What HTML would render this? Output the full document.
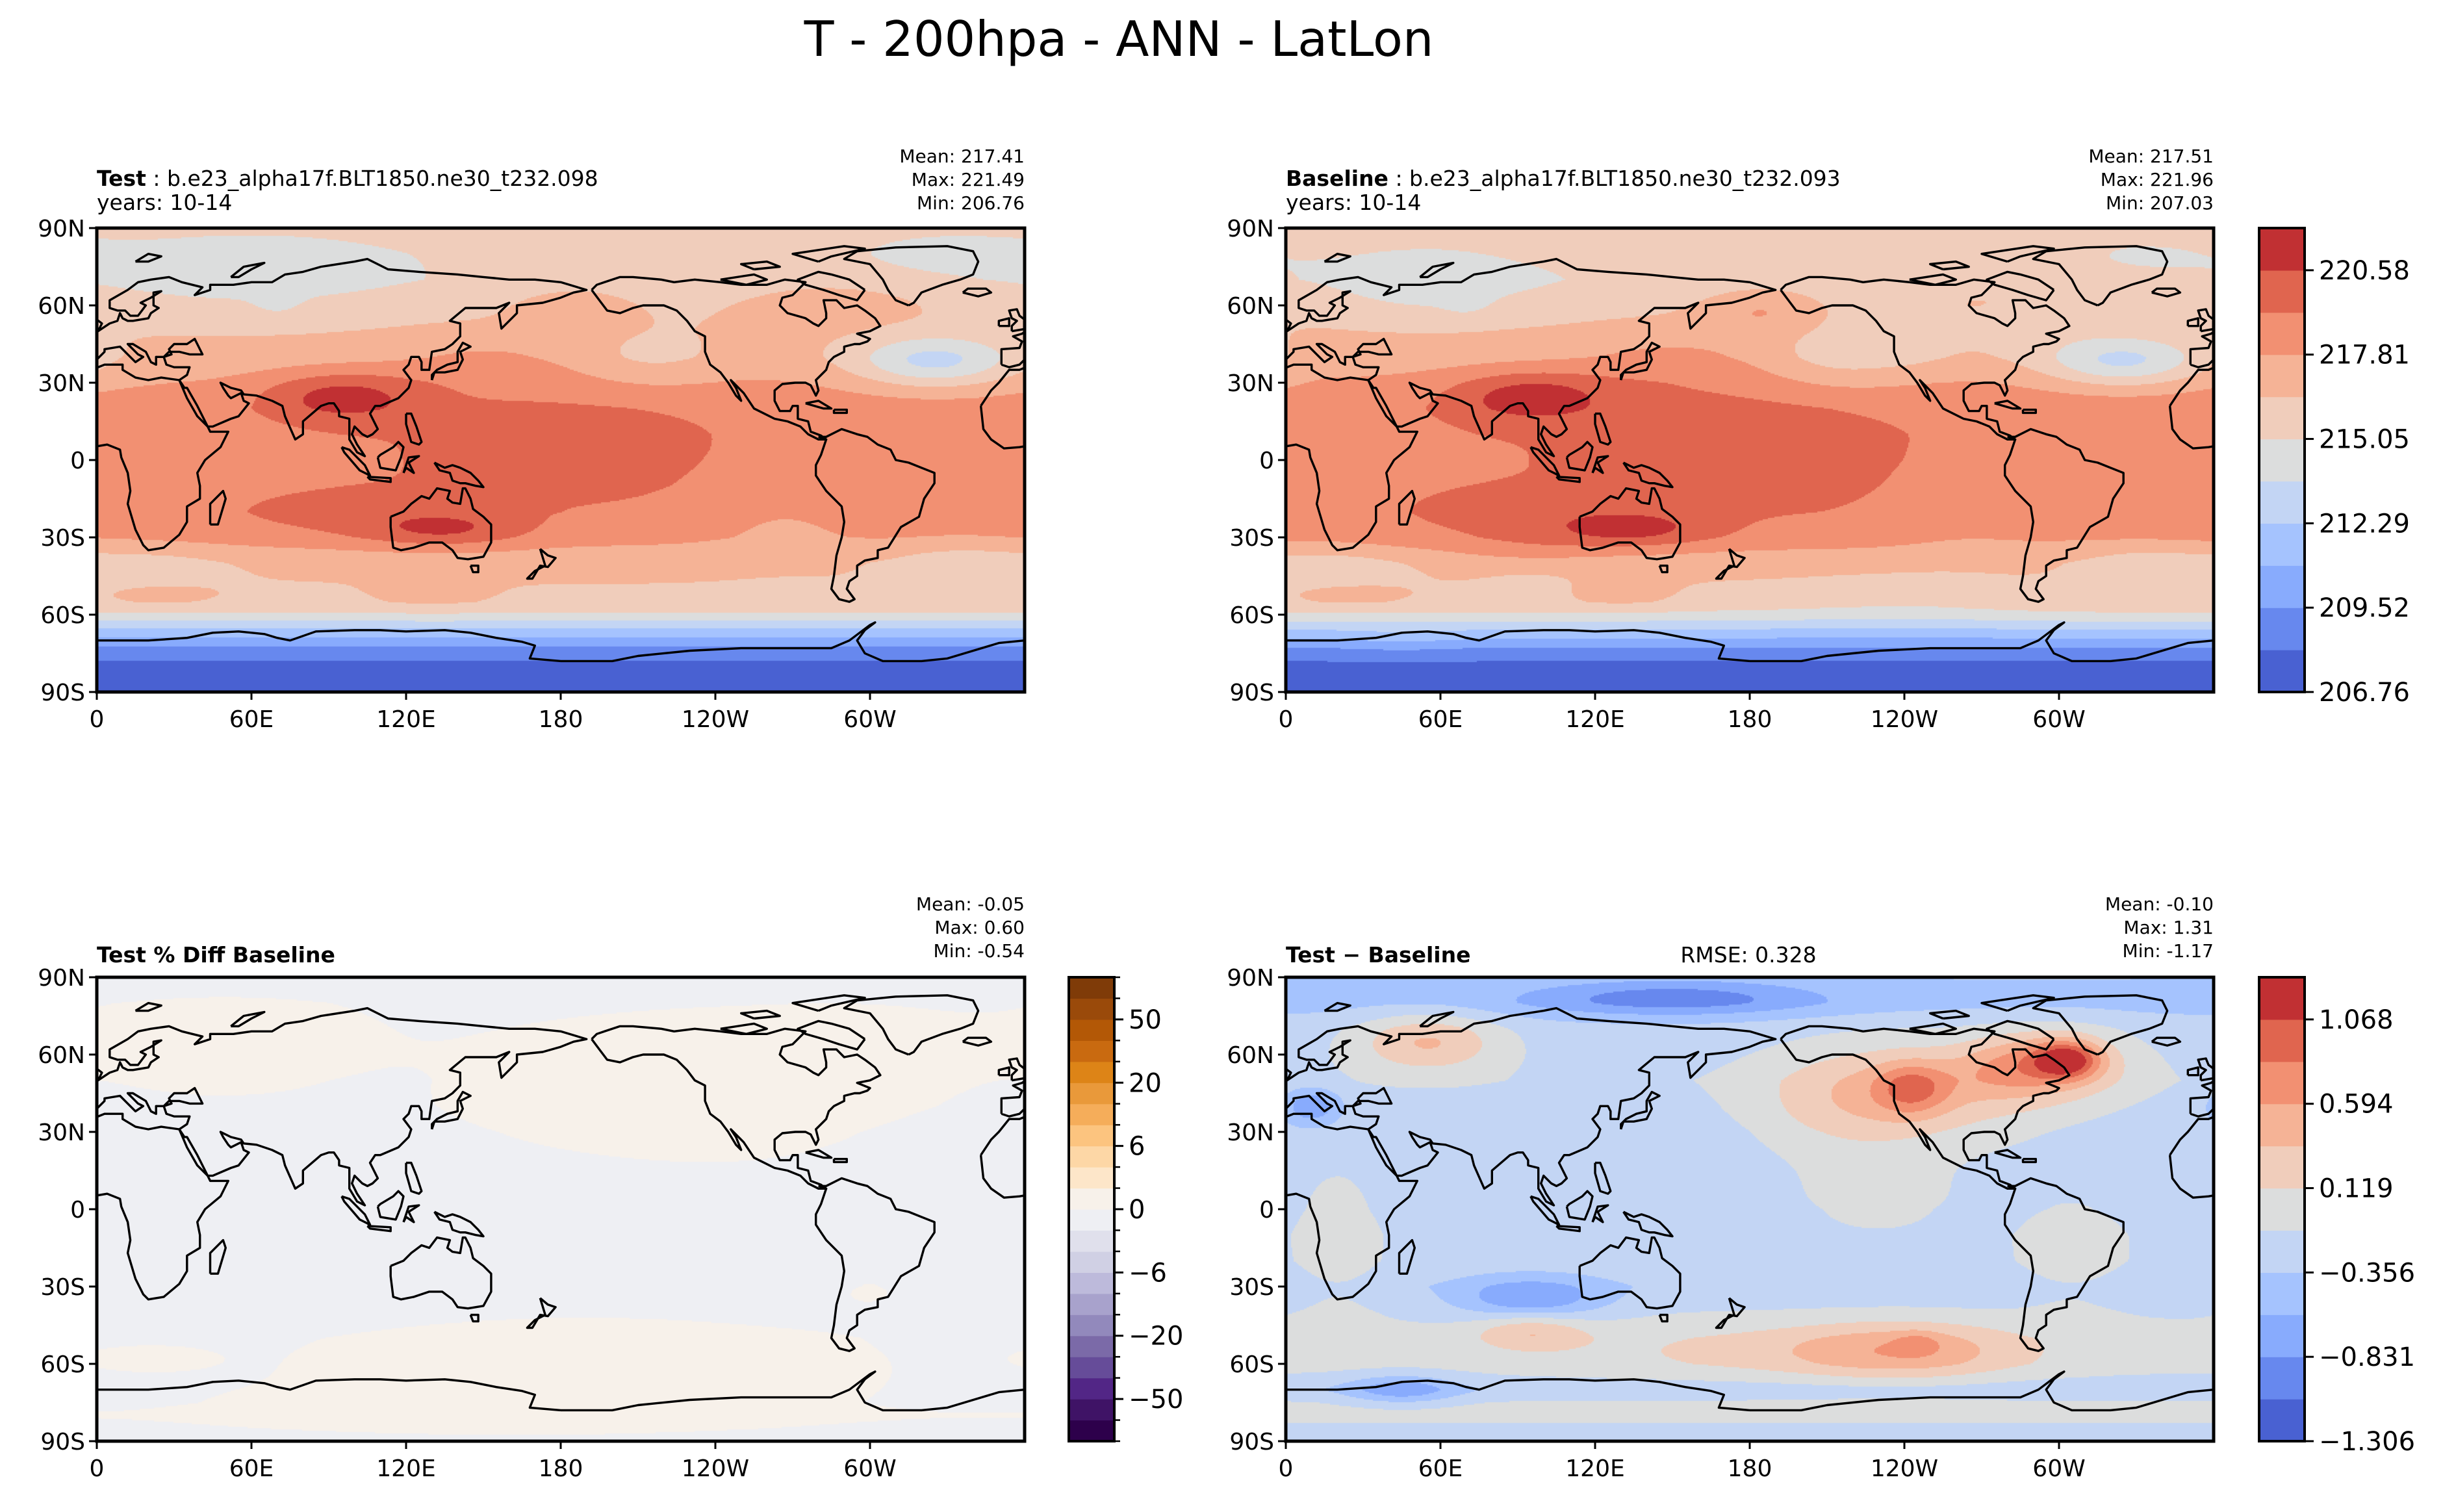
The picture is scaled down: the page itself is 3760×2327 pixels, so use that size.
<!DOCTYPE html>
<html><head><meta charset="utf-8">
<style>
html,body{margin:0;padding:0;background:#fff;}
body{width:3760px;height:2327px;position:relative;overflow:hidden;font-family:"DejaVu Sans","Liberation Sans",sans-serif;}
canvas{position:absolute;}
svg{position:absolute;left:0;top:0;}
</style></head>
<body>
<canvas id="cTL" width="1428" height="714" style="left:149px;top:351px"></canvas>
<canvas id="cTR" width="1428" height="714" style="left:1979px;top:351px"></canvas>
<canvas id="cBL" width="1428" height="714" style="left:149px;top:1504px"></canvas>
<canvas id="cBR" width="1428" height="714" style="left:1979px;top:1504px"></canvas>
<svg id="ov" width="3760" height="2327" xmlns="http://www.w3.org/2000/svg">
<text x="1722" y="86" font-size="75" text-anchor="middle" font-family="DejaVu Sans, sans-serif">T - 200hpa - ANN - LatLon</text>
</svg>
<script>
// ---------- data ----------
const zLats = [90,80,70,60,50,40,30,20,10,0,-10,-20,-30,-40,-50,-55,-60,-65,-70,-75,-80,-90];
const zTest = [215.6,215.4,215.4,216.0,216.5,216.9,217.8,218.5,218.6,218.6,218.6,218.5,218.0,216.7,216.3,216.1,214.8,212.5,210.3,208.6,207.8,207.3];
// [lon, lat, amp, sigLon, sigLat]
const testBumps = [
 [60,72,-1.1,45,12],[70,62,-0.9,6,4],[95,25,2.8,22,7],[180,5,1.1,55,22],[135,-27,2.1,22,5],
 [90,-22,1.0,35,8],[215,38,-1.0,20,8],[325,38,-3.8,22,7],[185,58,1.6,15,6],[285,62,1.0,30,8],
 [335,-40,-1.2,20,6],[20,-42,-1.1,20,5],[330,80,-0.8,25,6],[265,-20,-0.7,20,12],[130,-52,0.8,15,4],[25,-52,0.8,15,3],
 [150,38,0.9,25,8]
];
const dLats = [90,80,70,60,50,40,30,20,10,0,-10,-20,-30,-40,-50,-60,-65,-70,-75,-80,-85,-90];
const dZonal = [-0.35,-0.45,-0.25,-0.2,-0.15,-0.2,-0.25,-0.25,-0.25,-0.25,-0.2,-0.2,-0.3,-0.15,-0.05,-0.05,-0.15,-0.3,-0.1,0.0,-0.2,-0.35];
const diffBumps = [
 [55,65,0.6,20,8],[150,82,-0.55,40,5],[243,47,0.6,10,7],[250,45,0.45,35,15],[280,55,0.35,15,8],
 [303,58,1.0,9,5],[300,57,0.5,20,10],[10,40,-0.6,8,5],[95,-35,-0.6,20,6],[95,-47,0.45,15,5],
 [240,-55,0.45,30,8],[245,-52,0.25,6,3],[200,-55,0.25,60,8],[45,-70,-0.5,15,4],[20,-10,0.25,12,20],
 [305,-15,0.25,15,15],[230,5,0.2,25,10],[215,40,0.3,25,15]
];
const pctZonal = [-0.03,-0.01,-0.01,-0.01,-0.02,-0.02,-0.03,-0.03,-0.03,-0.03,-0.03,-0.03,-0.03,-0.02,-0.01,-0.01,-0.01,-0.01,-0.01,0.0,-0.01,-0.03];
const pctBumps = [
 [50,62,0.06,35,12],[240,42,0.07,50,18],[180,45,0.05,30,12],[300,60,0.04,30,10],[190,-62,0.07,60,12],[150,-78,0.05,60,6],[20,-58,0.04,15,3],[300,-30,0.03,20,8]
];
const coolwarm = ['#4961d2','#6788ee','#88abfd','#a5c3fe','#c3d5f4','#dcdddd','#f0cdbb','#f5b396','#f29072','#e0654f','#c13033'];
const puor = ['#2d004b','#3f1366','#522686','#664c99','#7b6aa8','#9289bc','#a8a2cc','#bdbadb','#d0d0e4','#e0e0ec','#eeeff3','#f7f1ea','#fde6c9','#fdd7a6','#fcc47f','#f5ad5a','#e9993a','#dd8417','#c96a10','#b35806','#9a4a0a','#7f3b08'];
const tLevelMin = 206.76, tLevelStep = 1.3818;
const dLevelMin = -1.306, dLevelStep = 0.2375;
const tTicks = ['206.76','209.52','212.29','215.05','217.81','220.58'];
const dTicks = ['\u22121.306','\u22120.831','\u22120.356','0.119','0.594','1.068'];
const pTicks = ['\u221250','\u221220','\u22126','0','6','20','50'];
const pTickIdx = [2,5,8,11,14,17,20];
const latTicks = [90,60,30,0,-30,-60,-90];
const latLabels = ['90N','60N','30N','0','30S','60S','90S'];
const lonTicks = [0,60,120,180,240,300];
const lonLabels = ['0','60E','120E','180','120W','60W'];

// ---------- coastlines (lon -180..180, lat) ----------
const coasts = [
 [[-17,21],[-16,12],[-13,8],[-8,4.5],[-2,5],[4,6],[9,4],[9.5,1],[12,-5],[13,-12],[12,-17],[15,-27],[18,-33],[20,-35],[26,-34],[32,-29],[35,-24],[35,-18],[40,-15],[40,-10],[39,-5],[42,0],[48,5],[51,11],[44,11],[43,13],[39,17],[35,24],[32,31],[25,32],[20,31],[15,32],[10,35],[10,37],[3,37],[-2,35],[-6,35],[-10,30],[-13,27],[-17,21]],
 [[44,-25],[47,-25],[50,-15],[49,-12],[44,-17],[44,-25]],
 [[-9,37],[-9,43],[-2,43.5],[-1,46],[-4.5,48],[-1,49],[2,51],[5,53],[8,54],[9,57],[10,55],[12,54],[14,54],[20,55],[21,57],[24,59],[22,60],[22,65],[25,65.5],[21,63],[17,61],[19,60],[16,56],[13,56],[11,58],[8,58],[5,59],[5,62],[12,66],[16,69],[21,70],[28,71],[33,69],[41,67],[38,64],[44,66],[44,68],[53,68],[60,69],[68,69],[73,72],[80,73],[87,75],[100,77],[105,78],[113,74],[125,73],[140,72],[150,71],[160,70],[170,70],[180,69],[190,66],[185,65],[180,63],[173,61],[163,60],[163,57],[157,51],[156,57],[160,61],[155,59],[143,59],[137,54],[141,53],[141,48],[138,45],[135,43],[130,42],[129,35],[126,35],[126,38],[125,40],[122,40],[121,37],[119,35],[122,31],[121,28],[117,24],[110,21],[108,21],[106,18],[109,12],[107,10],[105,9],[103,10],[100,13],[99,10],[101,6],[103,3],[104,1.5],[101,3],[98,8],[98,16],[94,17],[94,19],[92,22],[90,22],[87,21],[80,15],[80,10],[77,8],[73,17],[72,21],[68,23],[62,25],[57,25.5],[56,27],[52,28],[48,30],[49,28],[51,25],[52,24],[56,26],[57,23],[59,22],[55,17],[52,16],[45,13],[43,13],[39,21],[35,28],[34,28],[32,31],[35,33],[36,36],[30,36],[27,37],[26,40],[29,41],[28,43],[30,45],[35,45],[38,47],[41,41],[36,41],[32,42],[28,42],[26,40],[23,40],[23,37],[21,38],[19,42],[14,45],[12,45],[16,41],[18,40],[15,38],[12,41],[9,44],[3,43],[3,42],[0,39],[-2,37],[-6,36],[-9,37]],
 [[-5,50],[1,51],[2,53],[-2,56],[-3,58.5],[-6,58],[-5,55],[-3,54],[-5,52],[-5,50]],
 [[-10,52],[-6,52],[-6,55],[-10,54],[-10,52]],
 [[130,31],[131,34],[135,34],[140,35],[142,39],[141,42],[145,44],[142,45.5],[140,42],[140,38],[136,37],[132,35],[130,33],[130,31]],
 [[120,18],[122,18],[124,13],[126,7],[125,6],[122,7],[120,14],[120,18]],
 [[109,1],[110,-3],[116,-4],[118,1],[119,5],[117,7],[115,5],[110,2],[109,1]],
 [[95,5],[98,4],[104,-2],[106,-6],[102,-4],[96,3],[95,5]],
 [[105,-6.5],[114,-7],[114,-8.5],[106,-7.5],[105,-6.5]],
 [[119,-5],[121,1],[125,1.5],[121,-1],[123,-5],[120,-3],[119,-5]],
 [[131,-1],[135,-3],[138,-2],[141,-3],[145,-5],[148,-8],[150,-10.5],[147,-10],[143,-9],[141,-9],[138,-8],[137,-5],[133,-4],[131,-1]],
 [[114,-22],[114,-26],[115,-34],[118,-35],[123,-34],[129,-32],[134,-32],[138,-35],[140,-38],[144,-38.5],[150,-37.5],[153,-32],[153,-25],[150,-22],[146,-19],[145,-15],[143,-11],[142,-11],[141,-17],[138,-16.5],[136,-15],[137,-12],[132,-11],[129,-15],[126,-14],[122,-17],[119,-20],[114,-22]],
 [[145,-41],[148,-41],[148,-43.5],[146,-43.5],[145,-41]],
 [[172,-34.5],[175,-37],[178,-38],[175,-41.5],[172,-41],[169,-46],[167,-46],[170,-43],[174,-41],[172,-34.5]],
 [[-168,66],[-165,62],[-162,58],[-157,57],[-152,59],[-148,60],[-140,60],[-135,58],[-131,54],[-128,50],[-124,48],[-124,42],[-122,37],[-118,34],[-115,30],[-112,25],[-110,23],[-112,28],[-114,31],[-109,26],[-105,20],[-97,16],[-92,15],[-87,13],[-84,10],[-80,8],[-77,8],[-79,9.5],[-83,11],[-84,15],[-88,16],[-88,21],[-90,21],[-91,19],[-95,19],[-97,23],[-97,27],[-94,29.5],[-89,30],[-85,30],[-83,29],[-81,25],[-80,27],[-81,31],[-77,35],[-76,38],[-74,40],[-70,42],[-70,44],[-66,45],[-64,45],[-61,46],[-60,47],[-65,49],[-60,50],[-56,52],[-58,55],[-62,58],[-65,60],[-70,59],[-73,62],[-78,62],[-77,57],[-77,55],[-80,52],[-82,53],[-85,55],[-92,57],[-95,60],[-94,63],[-90,64],[-88,66],[-85,69],[-93,70],[-100,68],[-110,68],[-118,69],[-128,70],[-136,69],[-141,70],[-152,71],[-157,71],[-163,69],[-166,68],[-168,66]],
 [[-45,60],[-50,62],[-53,66],[-55,70],[-60,76],[-70,78],[-65,81],[-50,82.5],[-30,83],[-20,81],[-18,77],[-20,72],[-25,70],[-32,68],[-40,65],[-43,61],[-45,60]],
 [[-62,66],[-68,70],[-75,72],[-80,73],[-88,70],[-85,68],[-78,66],[-72,64],[-65,62],[-62,66]],
 [[-80,77],[-90,80],[-70,83],[-62,82],[-75,79],[-80,77]],
 [[-118,70],[-105,72],[-100,70],[-108,68],[-118,70]],
 [[-105,74],[-95,75],[-100,77],[-110,76],[-105,74]],
 [[-85,22],[-80,23],[-75,20],[-78,20],[-85,22]],
 [[-74,19.5],[-69,19.5],[-69,18.3],[-74,18.3],[-74,19.5]],
 [[-80,9],[-77,8],[-79,2],[-81,-2],[-81,-6],[-77,-12],[-71,-18],[-70,-24],[-71,-30],[-73,-37],[-74,-45],[-75,-50],[-72,-54],[-68,-55],[-66,-54],[-69,-50],[-68,-47],[-65,-45],[-65,-41],[-62,-39],[-57,-38],[-57,-35],[-53,-34],[-48,-26],[-41,-22],[-39,-15],[-35,-9],[-35,-5],[-40,-3],[-45,-1],[-50,0],[-52,4],[-57,6],[-61,9],[-65,10],[-71,12],[-73,11],[-77,9],[-80,9]],
 [[-24,65],[-22,66.5],[-15,66.5],[-13,65],[-18,63.5],[-24,65]],
 [[15,77],[20,80],[25,79],[20,77],[15,77]],
 [[52,71],[57,75],[65,76.5],[60,74],[55,71],[52,71]],
 [[-180,-78],[-160,-78],[-150,-76],[-130,-74],[-110,-73],[-100,-73],[-90,-73],[-75,-73],[-68,-70],[-60,-64],[-58,-63],[-62,-66],[-65,-70],[-62,-75],[-55,-78],[-40,-78],[-30,-77],[-20,-74],[-10,-71],[0,-70],[20,-70],[35,-69],[45,-67],[55,-66.5],[65,-67.5],[70,-69],[75,-70],[85,-66.5],[100,-66],[110,-66],[120,-66.5],[135,-66],[145,-67],[155,-69],[165,-70.5],[170,-72],[168,-77],[180,-78]]
];

const MW = 1428, MH = 714;
const panels = [
 {id:'TL', x:149, y:351},{id:'TR', x:1979, y:351},{id:'BL', x:149, y:1504},{id:'BR', x:1979, y:1504}
];

function interp(lat, lats, vals){
  for(let i=0;i<lats.length-1;i++){
    if(lat<=lats[i] && lat>=lats[i+1]){
      const t=(lats[i]-lat)/(lats[i]-lats[i+1]);
      return vals[i]+(vals[i+1]-vals[i])*t;
    }
  }
  return vals[vals.length-1];
}
function bumpSum(lon, lat, bumps){
  let s=0;
  for(const b of bumps){
    const dl=((lon-b[0]+540)%360)-180;
    const dp=lat-b[1];
    s+=b[2]*Math.exp(-0.5*((dl*dl)/(b[3]*b[3])+(dp*dp)/(b[4]*b[4])));
  }
  return s;
}
function testField(lon,lat){return interp(lat,zLats,zTest)+bumpSum(lon,lat,testBumps);}
function diffField(lon,lat){return interp(lat,dLats,dZonal)+bumpSum(lon,lat,diffBumps);}
function pctField(lon,lat){return interp(lat,dLats,pctZonal)+bumpSum(lon,lat,pctBumps);}

function drawField(cid, fn, colorOf){
  const c=document.getElementById(cid), g=c.getContext('2d');
  const st=2;
  for(let py=0;py<MH;py+=st){
    const lat=90-(py+st/2)/MH*180;
    for(let px=0;px<MW;px+=st){
      const lon=(px+st/2)/MW*360;
      g.fillStyle=colorOf(fn(lon,lat));
      g.fillRect(px,py,st,st);
    }
  }
}
function bandColor(v,min,step,cols){
  let k=Math.floor((v-min)/step);
  if(k<0)k=0; if(k>cols.length-1)k=cols.length-1;
  return cols[k];
}
drawField('cTL',testField,v=>bandColor(v,tLevelMin,tLevelStep,coolwarm));
drawField('cTR',(lo,la)=>testField(lo,la)-diffField(lo,la),v=>bandColor(v,tLevelMin,tLevelStep,coolwarm));
drawField('cBR',diffField,v=>bandColor(v,dLevelMin,dLevelStep,coolwarm));
drawField('cBL',pctField,v=>v>=0?puor[11]:puor[10]);

// ---------- overlay ----------
const NS='http://www.w3.org/2000/svg';
const ov=document.getElementById('ov');
function mk(tag,attrs,parent){
  const e=document.createElementNS(NS,tag);
  for(const k in attrs)e.setAttribute(k,attrs[k]);
  (parent||ov).appendChild(e);return e;
}
const defs=mk('defs',{});
panels.forEach(p=>{
  const cp=mk('clipPath',{id:'clip'+p.id},defs);
  mk('rect',{x:p.x,y:p.y,width:MW,height:MH},cp);
  const X=lon=>p.x+lon/360*MW, Y=lat=>p.y+(90-lat)/180*MH;
  const g=mk('g',{'clip-path':'url(#clip'+p.id+')'});
  
  
  coasts.forEach(poly=>{
    [0,360].forEach(sh=>{
      const d=poly.map((pt,i)=>(i?'L':'M')+X(pt[0]+sh).toFixed(1)+' '+Y(pt[1]).toFixed(1)).join('');
      const path=mk('path',{d:d,fill:'none',stroke:'#000','stroke-width':3.4,'stroke-linejoin':'round'},g);
      
      
    });
  });
  const fr=mk('rect',{x:p.x,y:p.y,width:MW,height:MH,fill:'none',stroke:'#000','stroke-width':5});
  
  
  latTicks.forEach((la,i)=>{
    const yy=Y(la);
    mk('line',{x1:p.x-12,x2:p.x,y1:yy,y2:yy,stroke:'#000','stroke-width':3});
    const t=mk('text',{x:p.x-18,y:yy+13,'font-size':36,'text-anchor':'end'});
    t.textContent=latLabels[i];
    
    
  });
  lonTicks.forEach((lo,i)=>{
    const xx=X(lo);
    mk('line',{x1:xx,x2:xx,y1:p.y+MH,y2:p.y+MH+12,stroke:'#000','stroke-width':3});
    const t=mk('text',{x:xx,y:p.y+MH+54,'font-size':36,'text-anchor':'middle'});
    t.textContent=lonLabels[i];
    
    
  });
});

// headers
function txt(x,y,s,opts,name){
  const t=mk('text',Object.assign({x:x,y:y,'font-size':28},opts||{}));
  t.textContent=s;
  
  
  return t;
}
function headerLeft(x,y,bold,rest,name){
  const t=mk('text',{x:x,y:y,'font-size':33});
  const b=mk('tspan',{'font-weight':'bold'},t);b.textContent=bold;
  const r=mk('tspan',{},t);r.textContent=rest;
  
  
}
const rx1=149+MW, rx2=1979+MW;
headerLeft(149,286,'Test',' : b.e23_alpha17f.BLT1850.ne30_t232.098','test-case-label');
txt(149,323,'years: 10-14',{'font-size':33},'test-years-label');
txt(rx1,250,'Mean: 217.41',{'text-anchor':'end'},'test-mean');
txt(rx1,286,'Max: 221.49',{'text-anchor':'end'},'test-max');
txt(rx1,322,'Min: 206.76',{'text-anchor':'end'},'test-min');
headerLeft(1979,286,'Baseline',' : b.e23_alpha17f.BLT1850.ne30_t232.093','baseline-case-label');
txt(1979,323,'years: 10-14',{'font-size':33},'baseline-years-label');
txt(rx2,250,'Mean: 217.51',{'text-anchor':'end'},'baseline-mean');
txt(rx2,286,'Max: 221.96',{'text-anchor':'end'},'baseline-max');
txt(rx2,322,'Min: 207.03',{'text-anchor':'end'},'baseline-min');
txt(149,1481,'Test % Diff Baseline',{'font-weight':'bold','font-size':33},'pct-diff-title');
txt(rx1,1401,'Mean: -0.05',{'text-anchor':'end'},'pct-mean');
txt(rx1,1437,'Max:  0.60',{'text-anchor':'end','xml:space':'preserve'},'pct-max');
txt(rx1,1473,'Min: -0.54',{'text-anchor':'end'},'pct-min');
txt(1979,1481,'Test \u2212 Baseline',{'font-weight':'bold','font-size':33},'diff-title');
txt(2691,1481,'RMSE: 0.328',{'text-anchor':'middle','font-size':33},'rmse-label');
txt(rx2,1401,'Mean: -0.10',{'text-anchor':'end'},'diff-mean');
txt(rx2,1437,'Max:  1.31',{'text-anchor':'end','xml:space':'preserve'},'diff-max');
txt(rx2,1473,'Min: -1.17',{'text-anchor':'end'},'diff-min');

// colorbars
function colorbar(x,y,w,h,cols,tickIdx,labels,minor,name){
  const g=mk('g',{});
  
  
  const n=cols.length, bh=h/n;
  cols.forEach((c,i)=>{
    mk('rect',{x:x,y:y+h-(i+1)*bh,width:w,height:bh+0.6,fill:c},g);
  });
  mk('rect',{x:x,y:y,width:w,height:h,fill:'none',stroke:'#000','stroke-width':4},g);
  if(minor){for(let i=0;i<=n;i++){const yy=y+h-i*bh;mk('line',{x1:x+w,x2:x+w+9,y1:yy,y2:yy,stroke:'#000','stroke-width':2.5},g);}}
  tickIdx.forEach((k,i)=>{
    const yy=y+h-k*bh;
    mk('line',{x1:x+w,x2:x+w+14,y1:yy,y2:yy,stroke:'#000','stroke-width':3},g);
    const t=mk('text',{x:x+w+22,y:yy+14,'font-size':40},g);
    t.textContent=labels[i];
    
    
  });
}
colorbar(3477,351,70,MH,coolwarm,[0,2,4,6,8,10],tTicks,false,'temperature-colorbar');
colorbar(3477,1504,70,MH,coolwarm,[0,2,4,6,8,10],dTicks,false,'diff-colorbar');
colorbar(1645,1504,70,MH,puor,pTickIdx,pTicks,true,'pct-diff-colorbar');
</script>
</body></html>
